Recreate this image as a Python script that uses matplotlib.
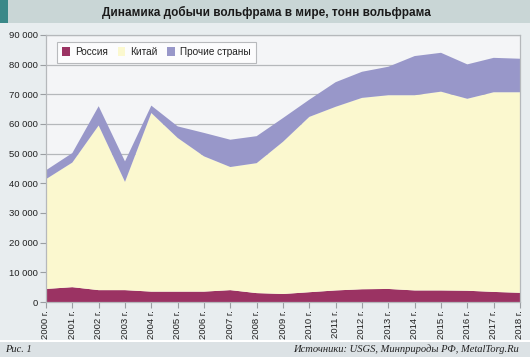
import matplotlib
matplotlib.use("Agg")
import matplotlib.pyplot as plt
from matplotlib.patches import Rectangle

years = [f"{y} г." for y in range(2000, 2019)]
russia = [4400, 5000, 4000, 4000, 3500, 3500, 3500, 4000, 3000, 2700,
          3300, 3900, 4300, 4400, 3900, 3900, 3800, 3400, 3100]
china = [37000, 42000, 55500, 36500, 60200, 51800, 45600, 41500, 43800, 51300,
         59100, 61900, 64500, 65300, 65800, 67000, 64700, 67300, 67600]
others = [3000, 3200, 6500, 6900, 2500, 3900, 7900, 9200, 9100, 8000,
          5800, 8300, 8800, 9600, 13200, 13100, 11600, 11600, 11300]
series_names = ["Россия", "Китай", "Прочие страны"]
colors = ["#9b3363", "#fbf8cf", "#9897c9"]
yticks = list(range(0, 90001, 10000))
title = "Динамика добычи вольфрама в мире, тонн вольфрама"

W, H = 530, 357
fig = plt.figure(figsize=(W / 100, H / 100), dpi=100)
fig.patch.set_facecolor("#e8edef")
plt.rcParams["font.family"] = ["Liberation Sans", "DejaVu Sans"]

# title bar
fig.add_artist(Rectangle((0, 1 - 23 / H), 1, 23 / H, transform=fig.transFigure,
                         facecolor="#c9d6d6", edgecolor="none", zorder=0))
fig.add_artist(Rectangle((0, 1 - 23 / H), 8 / W, 23 / H, transform=fig.transFigure,
                         facecolor="#3a8888", edgecolor="none", zorder=1))
fig.text(266 / W, 1 - 12 / H, title, ha="center", va="center",
         fontsize=8.5, fontweight="bold", color="#1a1a1a")

# footer bar
fig.add_artist(Rectangle((0, 0), 1, 15.5 / H, transform=fig.transFigure,
                         facecolor="#dce2e5", edgecolor="none", zorder=0))
fig.add_artist(Rectangle((0, 15.5 / H), 1, 1.5 / H, transform=fig.transFigure,
                         facecolor="#ffffff", edgecolor="none", zorder=0))
fig.text(5 / W, 7.5 / H, "Рис. 1", ha="left", va="center", fontsize=7.5,
         style="italic", family=["Liberation Serif", "DejaVu Serif"], color="#222222")
fig.text(519 / W, 7.5 / H, "Источники: USGS, Минприроды РФ, MetalTorg.Ru",
         ha="right", va="center", fontsize=7.6, style="italic",
         family=["Liberation Serif", "DejaVu Serif"], color="#222222")

ax = fig.add_axes([46 / W, 1 - 302 / H, (520 - 46) / W, (302 - 35) / H])
ax.set_facecolor("#f4f5f7")
x = list(range(len(years)))
ax.stackplot(x, russia, china, others, colors=colors, labels=series_names,
             linewidth=0, zorder=2)
ax.set_xlim(0, len(years) - 1)
ax.set_ylim(0, 90000)
ax.set_yticks(yticks)
ax.set_yticklabels([f"{v:,}".replace(",", " ") for v in yticks], fontsize=6.8,
                   color="#222222")
ax.set_xticks(x)
ax.set_xticklabels(years, rotation=90, fontsize=6.8, color="#222222")
ax.grid(axis="y", color="#b5b8bb", linewidth=0.9, zorder=1)
ax.set_axisbelow(True)
for s in ["top", "right", "left", "bottom"]:
    ax.spines[s].set_color("#b5b8bb")
    ax.spines[s].set_linewidth(0.9)
ax.tick_params(axis="both", color="#9a9ea2", length=4, width=0.8, pad=2)

leg = ax.legend(loc="upper left", bbox_to_anchor=(10.7 / 474, 1 - 6.7 / 267),
                ncol=3, fontsize=7.2, frameon=True, fancybox=False,
                handlelength=0.75, handleheight=1.0, handletextpad=0.5,
                columnspacing=1.0, borderpad=0.55, borderaxespad=0)
leg.get_frame().set_edgecolor("#a8abae")
leg.get_frame().set_linewidth(0.8)
leg.get_frame().set_facecolor("#ffffff")
for t in leg.get_texts():
    t.set_color("#222222")

fig.savefig("out.png", dpi=100, facecolor=fig.get_facecolor())
